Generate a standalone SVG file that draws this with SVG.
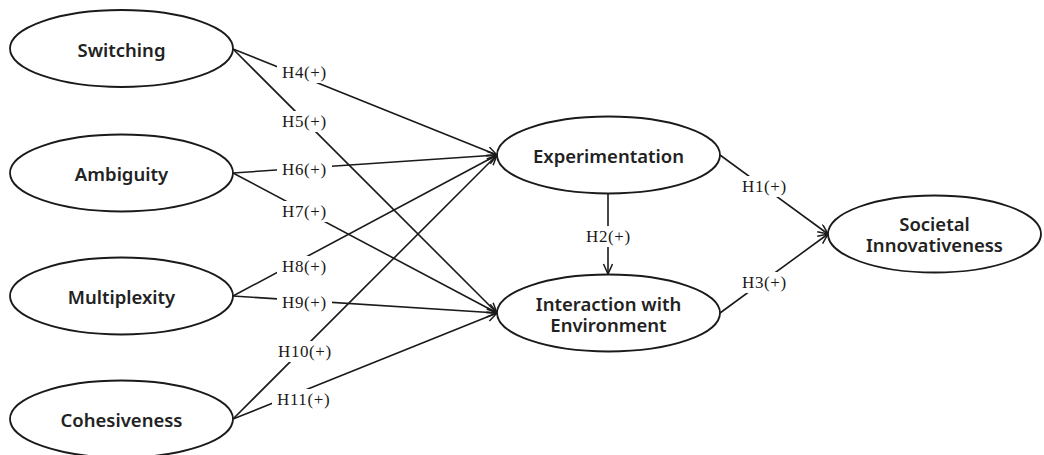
<svg xmlns="http://www.w3.org/2000/svg" width="1044" height="455" viewBox="0 0 1044 455">
<style>
.node ellipse{fill:#fff;stroke:#1a1a1a;stroke-width:1.8}
.node text{font-family:"Noto Sans","Open Sans",sans-serif;font-weight:600;font-size:18.5px;fill:#222;text-anchor:middle}
.edge{stroke:#1a1a1a;stroke-width:1.6;fill:none}
.lbl rect{fill:#fff}
.lbl text{font-family:"Liberation Serif","Times New Roman",serif;font-size:17px;fill:#1a1a1a;letter-spacing:0.6px}
</style>
<defs>
<marker id="arr" markerUnits="userSpaceOnUse" markerWidth="12" markerHeight="12" refX="11" refY="5" orient="auto">
<path d="M1,0.5 L11,5 L1,9.5" fill="none" stroke="#1a1a1a" stroke-width="1.5"/>
</marker>
</defs>
<rect width="1044" height="455" fill="#fff"/>
<g id="connectors">
<line class="edge" x1="233" y1="49" x2="497" y2="155" marker-end="url(#arr)"/>
<line class="edge" x1="233" y1="49" x2="497" y2="313" marker-end="url(#arr)"/>
<line class="edge" x1="233" y1="173" x2="497" y2="155" marker-end="url(#arr)"/>
<line class="edge" x1="233" y1="173" x2="497" y2="313" marker-end="url(#arr)"/>
<line class="edge" x1="233" y1="296" x2="497" y2="155" marker-end="url(#arr)"/>
<line class="edge" x1="233" y1="296" x2="497" y2="313" marker-end="url(#arr)"/>
<line class="edge" x1="233" y1="419" x2="497" y2="155" marker-end="url(#arr)"/>
<line class="edge" x1="233" y1="419" x2="497" y2="313" marker-end="url(#arr)"/>
<line class="edge" x1="608" y1="194" x2="608" y2="274" marker-end="url(#arr)"/>
<line class="edge" x1="720" y1="155" x2="828" y2="234" marker-end="url(#arr)"/>
<line class="edge" x1="720" y1="313" x2="828" y2="234" marker-end="url(#arr)"/>
<g class="lbl">
<rect x="277" y="62" width="55" height="21"/><text x="282" y="78">H4(+)</text>
<rect x="277" y="111" width="55" height="21"/><text x="282" y="127">H5(+)</text>
<rect x="277" y="159" width="55" height="21"/><text x="282" y="175">H6(+)</text>
<rect x="277" y="201" width="55" height="21"/><text x="282" y="217">H7(+)</text>
<rect x="277" y="256" width="55" height="21"/><text x="282" y="272">H8(+)</text>
<rect x="277" y="292" width="55" height="21"/><text x="282" y="308">H9(+)</text>
<rect x="272" y="341" width="65" height="21"/><text x="278" y="357">H10(+)</text>
<rect x="272" y="389" width="65" height="21"/><text x="277" y="405">H11(+)</text>
<rect x="581" y="226" width="56" height="21"/><text x="586" y="242">H2(+)</text>
<rect x="737" y="176" width="56" height="21"/><text x="742" y="192">H1(+)</text>
<rect x="737" y="272" width="56" height="21"/><text x="742" y="288">H3(+)</text>
</g>
</g>
<g id="switching" class="node"><ellipse cx="121.5" cy="48.5" rx="111.5" ry="38.5"/><text x="121.5" y="57">Switching</text></g>
<g id="ambiguity" class="node"><ellipse cx="121.5" cy="173" rx="111.5" ry="38.5"/><text x="121.5" y="181">Ambiguity</text></g>
<g id="multiplexity" class="node"><ellipse cx="121.5" cy="296" rx="111.5" ry="38.5"/><text x="121.5" y="304">Multiplexity</text></g>
<g id="cohesiveness" class="node"><ellipse cx="121.5" cy="419" rx="111.5" ry="38.5"/><text x="121.5" y="427">Cohesiveness</text></g>
<g id="experimentation" class="node"><ellipse cx="608.5" cy="155" rx="111.5" ry="38.5"/><text x="608.5" y="163">Experimentation</text></g>
<g id="interaction" class="node"><ellipse cx="608.5" cy="313" rx="111.5" ry="38.5"/><text x="608.5" y="311">Interaction with<tspan x="608.5" dy="21">Environment</tspan></text></g>
<g id="societal" class="node"><ellipse cx="934.5" cy="234" rx="106.5" ry="38.5"/><text x="934.5" y="231">Societal<tspan x="934.5" dy="21">Innovativeness</tspan></text></g>
</svg>
